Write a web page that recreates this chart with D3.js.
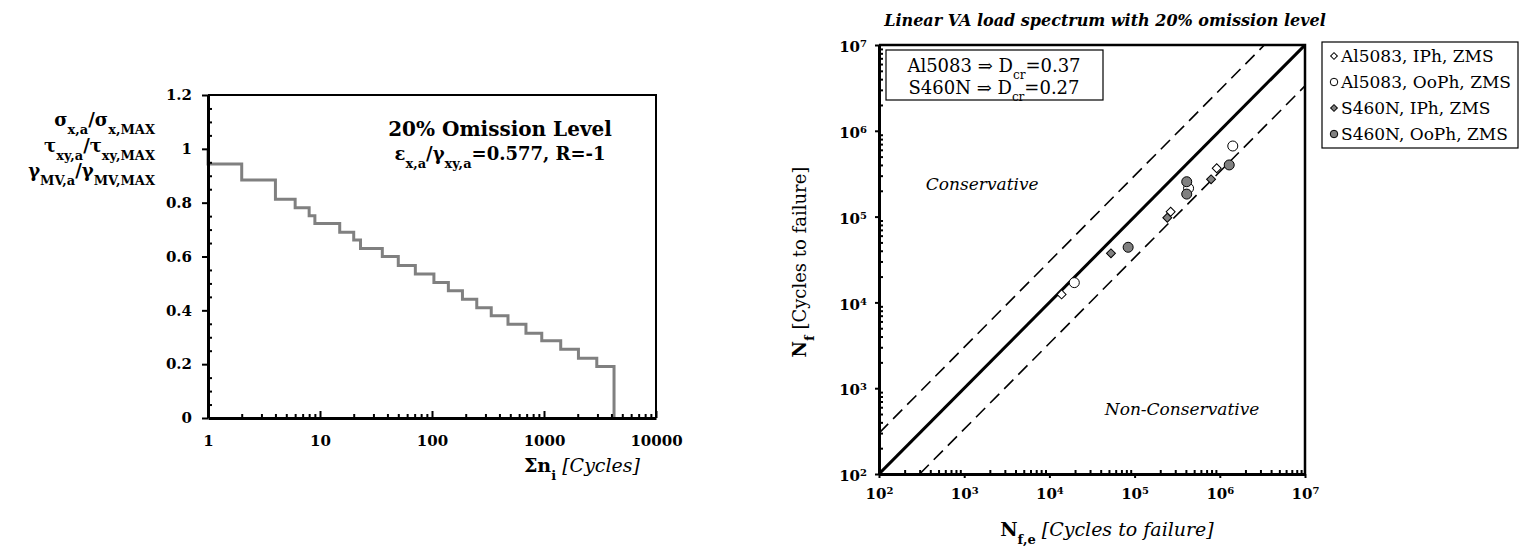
<!DOCTYPE html>
<html>
<head>
<meta charset="utf-8">
<script src="https://cdn.jsdelivr.net/npm/d3@7"></script>
<style>
  body { margin: 0; background: #fff; }
  text { font-family: "DejaVu Serif", serif; fill: #000; }
</style>
</head>
<body>
<div id="chart"></div>
<script>
// left: load spectrum, 20% omission level (step levels start at each cycle count)
const cycles = [1, 1, 2, 4, 6, 8, 9, 15, 20, 23, 36, 50, 71, 104, 140, 187, 251, 338, 477, 690, 955, 1410, 2030, 2960, 4220];
const amplitude = [1.0, 0.944, 0.884, 0.813, 0.781, 0.751, 0.723, 0.690, 0.661, 0.630, 0.600, 0.567, 0.535, 0.503, 0.473, 0.441, 0.410, 0.380, 0.348, 0.315, 0.287, 0.255, 0.222, 0.191, 0];
const xTicksLeft = [1, 10, 100, 1000, 10000];
const yTicksLeft = [0, 0.2, 0.4, 0.6, 0.8, 1, 1.2];

// right: estimated vs experimental lives
const seriesNames = ["Al5083, IPh, ZMS", "Al5083, OoPh, ZMS", "S460N, IPh, ZMS", "S460N, OoPh, ZMS"];
const alIPhNfe = [1.39e4, 2.65e5, 9.2e5];
const alIPhNf = [1.24e4, 1.14e5, 3.66e5];
const alOoPhNfe = [1.96e4, 4.3e5, 1.42e6];
const alOoPhNf = [1.7e4, 2.14e5, 6.65e5];
const stIPhNfe = [5.28e4, 2.42e5, 7.9e5];
const stIPhNf = [3.73e4, 9.7e4, 2.72e5];
const stOoPhNfe = [8.4e4, 4.09e5, 4.09e5, 1.29e6];
const stOoPhNf = [4.39e4, 2.55e5, 1.83e5, 4.0e5];
const decadeTicks = [1e2, 1e3, 1e4, 1e5, 1e6, 1e7];
const scatterBand = 3;

const svg = d3.select("#chart").append("svg")
    .attr("width", 1520)
    .attr("height", 550);

// small helper for sub/superscripts
function rich(sel, parts) {
    parts.forEach(p => {
        const t = sel.append("tspan").text(p.t);
        if (p.sub) t.attr("baseline-shift", "sub").style("font-size", p.size || "12px");
        if (p.sup) t.attr("baseline-shift", "super").style("font-size", p.size || "11px");
        if (p.it) t.style("font-style", "italic").style("font-weight", "normal");
        if (p.normal) t.style("font-weight", "normal");
    });
    return sel;
}

// ---------------- left chart ----------------
const xL = d3.scaleLog().domain([1, 10000]).range([208, 656]);
const yL = d3.scaleLinear().domain([0, 1.2]).range([418, 95]);

const left = svg.append("g");

left.append("path")
    .datum(cycles.map((c, i) => [c, amplitude[i]]))
    .attr("fill", "none")
    .attr("stroke", "#808080")
    .attr("stroke-width", 3)
    .attr("d", d3.line().x(d => xL(d[0])).y(d => yL(d[1])).curve(d3.curveStepAfter));

const minorL = xL.ticks().filter(d => !xTicksLeft.includes(d));
left.append("g")
    .attr("transform", "translate(0,418)")
    .call(d3.axisBottom(xL).tickValues(minorL).tickSize(-4).tickSizeOuter(0).tickFormat(""))
    .call(g => g.select(".domain").remove());
const xAxL = left.append("g")
    .attr("transform", "translate(0,418)")
    .call(d3.axisBottom(xL).tickValues(xTicksLeft).tickSize(-7).tickSizeOuter(0).tickPadding(17).tickFormat(d3.format("d")));

const yMinorL = d3.range(0.05, 1.2, 0.05).filter(v => Math.abs(v * 5 - Math.round(v * 5)) > 0.01);
left.append("g")
    .attr("transform", "translate(208,0)")
    .call(d3.axisLeft(yL).tickValues(yMinorL).tickSize(-4).tickSizeOuter(0).tickFormat(""))
    .call(g => g.select(".domain").remove());
const yAxL = left.append("g")
    .attr("transform", "translate(208,0)")
    .call(d3.axisLeft(yL).tickValues(yTicksLeft).tickSize(6).tickSizeOuter(0).tickPadding(10).tickFormat(d3.format("~g")));

[xAxL, yAxL].forEach(a => {
    a.select(".domain").attr("stroke-width", 3);
    a.selectAll("text").style("font-family", "DejaVu Serif").style("font-size", "15px").style("font-weight", "bold");
});
left.selectAll(".tick line").attr("stroke", "#000").attr("stroke-width", 2);

left.append("path")
    .attr("d", `M208,95H656V418`)
    .attr("fill", "none").attr("stroke", "#000").attr("stroke-width", 2);

const labelL = left.append("g").style("font-weight", "bold").style("font-size", "18px").attr("text-anchor", "end");
rich(labelL.append("text").attr("x", 155).attr("y", 126),
    [{t: "σ"}, {t: "x,a", sub: true, size: "13px"}, {t: "/σ"}, {t: "x,MAX", sub: true, size: "13px"}]);
rich(labelL.append("text").attr("x", 155).attr("y", 152),
    [{t: "τ"}, {t: "xy,a", sub: true, size: "13px"}, {t: "/τ"}, {t: "xy,MAX", sub: true, size: "13px"}]);
rich(labelL.append("text").attr("x", 155).attr("y", 177),
    [{t: "γ"}, {t: "MV,a", sub: true, size: "13px"}, {t: "/γ"}, {t: "MV,MAX", sub: true, size: "13px"}]);

left.append("text")
    .attr("x", 500).attr("y", 136)
    .attr("text-anchor", "middle")
    .style("font-weight", "bold").style("font-size", "20px")
    .text("20% Omission Level");
rich(left.append("text").attr("x", 500).attr("y", 160).attr("text-anchor", "middle")
        .style("font-weight", "bold").style("font-size", "18px"),
    [{t: "ε"}, {t: "x,a", sub: true, size: "13px"}, {t: "/γ"}, {t: "xy,a", sub: true, size: "13px"}, {t: "=0.577, R=-1"}]);

rich(left.append("text").attr("x", 640).attr("y", 472).attr("text-anchor", "end")
        .style("font-weight", "bold").style("font-size", "19px"),
    [{t: "Σn"}, {t: "i", sub: true, size: "13px"}, {t: " [Cycles]", it: true}]);

// ---------------- right chart ----------------
const xR = d3.scaleLog().domain([1e2, 1e7]).range([879, 1305]);
const yR = d3.scaleLog().domain([1e2, 1e7]).range([474, 45]);
const right = svg.append("g");

right.append("text")
    .attr("x", 1105).attr("y", 26)
    .attr("text-anchor", "middle")
    .style("font-weight", "bold").style("font-style", "italic").style("font-size", "16px")
    .text("Linear VA load spectrum with 20% omission level");

right.append("clipPath").attr("id", "clipR")
    .append("rect").attr("x", 879).attr("y", 45).attr("width", 426).attr("height", 429);

const line = d3.line().x(d => xR(d[0])).y(d => yR(d[1]));
const lo = decadeTicks[0], hi = decadeTicks[decadeTicks.length - 1];
const lines = right.append("g").attr("clip-path", "url(#clipR)");
lines.append("path").attr("d", line([[lo, lo], [hi, hi]]))
    .attr("stroke", "#000").attr("stroke-width", 3).attr("fill", "none");
lines.append("path").attr("d", line([[lo, lo * scatterBand], [hi / scatterBand, hi]]))
    .attr("stroke", "#000").attr("stroke-width", 1.6).attr("stroke-dasharray", "13,7").attr("fill", "none");
lines.append("path").attr("d", line([[lo * scatterBand, lo], [hi, hi / scatterBand]]))
    .attr("stroke", "#000").attr("stroke-width", 1.6).attr("stroke-dasharray", "13,7").attr("fill", "none");

const minorR = xR.ticks().filter(d => !decadeTicks.includes(d));
right.append("g").attr("transform", "translate(0,474)")
    .call(d3.axisBottom(xR).tickValues(minorR).tickSize(-4).tickSizeOuter(0).tickFormat(""))
    .call(g => g.select(".domain").remove());
right.append("g").attr("transform", "translate(879,0)")
    .call(d3.axisLeft(yR).tickValues(minorR).tickSize(-4).tickSizeOuter(0).tickFormat(""))
    .call(g => g.select(".domain").remove());
const xAxR = right.append("g").attr("transform", "translate(0,474)")
    .call(d3.axisBottom(xR).tickValues(decadeTicks).tickSize(4).tickSizeOuter(0).tickPadding(6).tickFormat(""));
const yAxR = right.append("g").attr("transform", "translate(879,0)")
    .call(d3.axisLeft(yR).tickValues(decadeTicks).tickSize(4).tickSizeOuter(0).tickPadding(8).tickFormat(""));

[xAxR, yAxR].forEach(a => {
    a.select(".domain").attr("stroke-width", 3);
    a.selectAll("text").each(function(d) {
        const t = d3.select(this).text(null)
            .style("font-family", "DejaVu Serif").style("font-size", "15px").style("font-weight", "bold");
        rich(t, [{t: "10"}, {t: String(Math.round(Math.log10(d))), sup: true, size: "10px"}]);
    });
});
yAxR.selectAll("text").attr("dy", "0.45em");
xAxR.selectAll("text").attr("dy", "1em");
right.selectAll(".tick line").attr("stroke", "#000").attr("stroke-width", 2);

right.append("path")
    .attr("d", "M879,45H1305V474")
    .attr("fill", "none").attr("stroke", "#000").attr("stroke-width", 2.5);

const yLabR = rich(right.append("text")
        .attr("transform", "translate(806,262) rotate(-90)")
        .attr("text-anchor", "middle")
        .style("font-size", "18px"),
    [{t: "N"}, {t: "f", sub: true, size: "13px"}, {t: " [Cycles to failure]", normal: true}]);
yLabR.selectAll("tspan").filter((d, i) => i < 2).style("font-weight", "bold");

rich(right.append("text")
        .attr("x", 1107).attr("y", 536)
        .attr("text-anchor", "middle")
        .style("font-weight", "bold").style("font-size", "19px"),
    [{t: "N"}, {t: "f,e", sub: true, size: "13px"}, {t: " [Cycles to failure]", it: true}]);

right.append("text")
    .attr("x", xR(10 ** 2.55)).attr("y", yR(10 ** 5.31))
    .style("font-style", "italic").style("font-size", "17px")
    .text("Conservative");
right.append("text")
    .attr("x", xR(10 ** 4.65)).attr("y", yR(10 ** 2.69))
    .style("font-style", "italic").style("font-size", "17px")
    .text("Non-Conservative");

// annotation box
right.append("rect")
    .attr("x", 886).attr("y", 50).attr("width", 217).attr("height", 50)
    .attr("fill", "#fff").attr("stroke", "#000").attr("stroke-width", 1.2);
rich(right.append("text").attr("x", 994).attr("y", 72).attr("text-anchor", "middle").style("font-size", "18px"),
    [{t: "Al5083 ⇒ D"}, {t: "cr", sub: true}, {t: "=0.37"}]);
rich(right.append("text").attr("x", 994).attr("y", 94).attr("text-anchor", "middle").style("font-size", "18px"),
    [{t: "S460N ⇒ D"}, {t: "cr", sub: true}, {t: "=0.27"}]);

// markers
const diamond = d3.symbol().type(d3.symbolSquare);
const series = [
    {name: seriesNames[2], nfe: stIPhNfe, nf: stIPhNf, shape: "diamond", fill: "#808080"},
    {name: seriesNames[0], nfe: alIPhNfe, nf: alIPhNf, shape: "diamond", fill: "#fff"},
    {name: seriesNames[1], nfe: alOoPhNfe, nf: alOoPhNf, shape: "circle", fill: "#fff"},
    {name: seriesNames[3], nfe: stOoPhNfe, nf: stOoPhNf, shape: "circle", fill: "#808080"}
];

function drawMarker(g, s, x, y, scale) {
    if (s.shape === "diamond") {
        g.append("path")
            .attr("d", diamond.size(40 * scale * scale)())
            .attr("transform", `translate(${x},${y}) rotate(45)`)
            .attr("fill", s.fill).attr("stroke", "#000").attr("stroke-width", 1);
    } else {
        g.append("circle")
            .attr("cx", x).attr("cy", y).attr("r", 5 * scale)
            .attr("fill", s.fill).attr("stroke", "#000").attr("stroke-width", 1);
    }
}

const pts = right.append("g");
series.forEach(s => {
    s.nfe.forEach((v, i) => drawMarker(pts, s, xR(v), yR(s.nf[i]), 1));
});

// legend
const lg = right.append("g");
lg.append("rect")
    .attr("x", 1322).attr("y", 42).attr("width", 196).attr("height", 106)
    .attr("fill", "#fff").attr("stroke", "#000").attr("stroke-width", 1.2);
const legendOrder = [series[1], series[2], series[0], series[3]];
legendOrder.forEach((s, i) => {
    const cy = 56 + i * 26;
    drawMarker(lg, s, 1334, cy, 0.75);
    lg.append("text").attr("x", 1341).attr("y", cy + 6).style("font-size", "17px").text(s.name);
});
</script>
</body>
</html>
